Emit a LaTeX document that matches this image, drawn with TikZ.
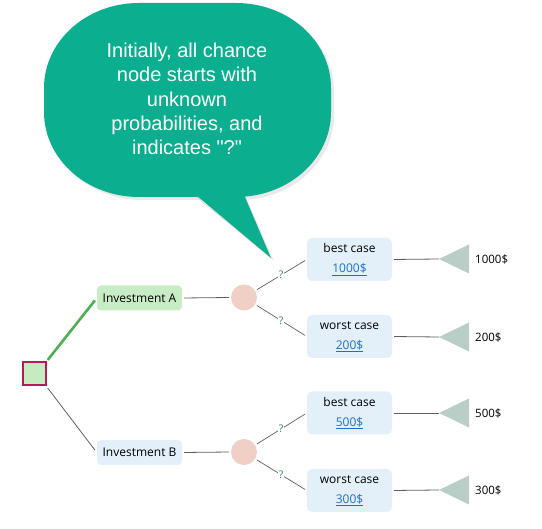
\documentclass[tikz,border=0pt]{standalone}
\usepackage{fontspec}
\setmainfont{Open Sans}
\newfontfamily\callfont{Liberation Sans}
\usetikzlibrary{shapes.geometric}
\definecolor{calloutc}{HTML}{0BAE8E}
\definecolor{decfill}{HTML}{C6EBC0}
\definecolor{decborder}{HTML}{B3195C}
\definecolor{greenbox}{HTML}{C8EDC4}
\definecolor{bluebox}{HTML}{E3F0FA}
\definecolor{chancec}{HTML}{F0CFC4}
\definecolor{endc}{HTML}{B9CEC7}
\definecolor{linkc}{HTML}{1C6FD0}
\definecolor{qc}{HTML}{2E7F8E}
\definecolor{linec}{HTML}{606060}
\definecolor{greenline}{HTML}{4CAF50}
\tikzset{
  optbox/.style={rounded corners=4pt, minimum width=85pt, minimum height=25pt, inner sep=0pt, font=\fontsize{12}{14}\selectfont},
  outbox/.style={rounded corners=5pt, fill=bluebox, minimum width=85pt, minimum height=43pt, inner sep=0pt, align=center, font=\fontsize{12}{20}\selectfont},
  chance/.style={circle, fill=chancec, minimum size=26pt, inner sep=0pt},
  conn/.style={draw=linec, line width=0.8pt},
  branch/.style={draw=linec, line width=0.7pt, shorten <=2pt, shorten >=2pt},
  qlab/.style={fill=white, inner sep=0.6pt, text=qc, font=\fontsize{10.5}{10.5}\selectfont},
  endtri/.style={fill=endc},
  endlab/.style={anchor=west, inner sep=0pt, font=\fontsize{11.5}{12}\selectfont}
}
\newcommand{\lnk}[1]{\textcolor{linkc}{\underline{#1}}}
\newcommand{\calloutpath}{(139,3) -- (236,3) .. controls (288.5,3) and (331,41) .. (331,88) -- (331,112) .. controls (331,159) and (288.5,197) .. (236,197) -- (139,197) .. controls (86.5,197) and (44,159) .. (44,112) -- (44,88) .. controls (44,41) and (86.5,3) .. (139,3) -- cycle}
\begin{document}
\begin{tikzpicture}[x=1pt,y=-1pt]
\useasboundingbox (0,0) rectangle (542,529);
% callout shadow
\begin{scope}[shift={(3,3)}]
\fill[black!25, opacity=0.35] \calloutpath;
\fill[black!25, opacity=0.35] (190,192) -- (271,258) -- (242,192) -- cycle;
\end{scope}
% callout
\fill[calloutc] \calloutpath;
\fill[calloutc] (190,190) -- (271,258) -- (242,190) -- cycle;
\node[text=white, align=center, font=\callfont\fontsize{20}{24.3}\selectfont] (callout) at (187,99)
  {Initially, all chance\\node starts with\\unknown\\probabilities, and\\indicates "?"};
% decision node
\node[draw=decborder, fill=decfill, line width=2pt, minimum size=23pt, inner sep=0pt] (dec) at (34,374) {};
% investments
\node[optbox, fill=greenbox] (iA) at (139.5,298) {Investment A};
\node[optbox, fill=bluebox] (iB) at (139.5,452.5) {Investment B};
\draw[greenline, line width=2.6pt, shorten <=2pt, shorten >=3pt] (dec.north east) -- (iA.west);
\draw[conn, shorten <=2pt, shorten >=3pt] (dec.south east) -- (iB.west);
% chance nodes
\node[chance] (cA) at (244,297.5) {};
\node[chance] (cB) at (244,452) {};
\draw[conn, shorten <=2pt, shorten >=2pt] (iA.east) -- (cA.west);
\draw[conn, shorten <=2pt, shorten >=2pt] (iB.east) -- (cB.west);
% outcome boxes
\node[outbox] (bA) at (349.5,259.5) {best case\\\lnk{1000\$}};
\node[outbox] (wA) at (349.5,336.5) {worst case\\\lnk{200\$}};
\node[outbox] (bB) at (349.5,413) {best case\\\lnk{500\$}};
\node[outbox] (wB) at (349.5,490.5) {worst case\\\lnk{300\$}};
\draw[branch] (cA) -- (bA.west) node[qlab, pos=0.5] {?};
\draw[branch] (cA) -- (wA.west) node[qlab, pos=0.5] {?};
\draw[branch] (cB) -- (bB.west) node[qlab, pos=0.5] {?};
\draw[branch] (cB) -- (wB.west) node[qlab, pos=0.5] {?};
% end nodes
\foreach \n/\y/\v in {bA/259/1000, wA/337/200, bB/413/500, wB/490/300}{
  \coordinate (t\n) at (439,\y);
  \fill[endtri] (t\n) -- ++(30,-14.5) -- ++(0,29) -- cycle;
  \draw[conn, shorten <=2pt] (\n.east) -- (t\n);
  \node[endlab] (l\n) at (475,\y) {\v\$};
}
\end{tikzpicture}
\end{document}
